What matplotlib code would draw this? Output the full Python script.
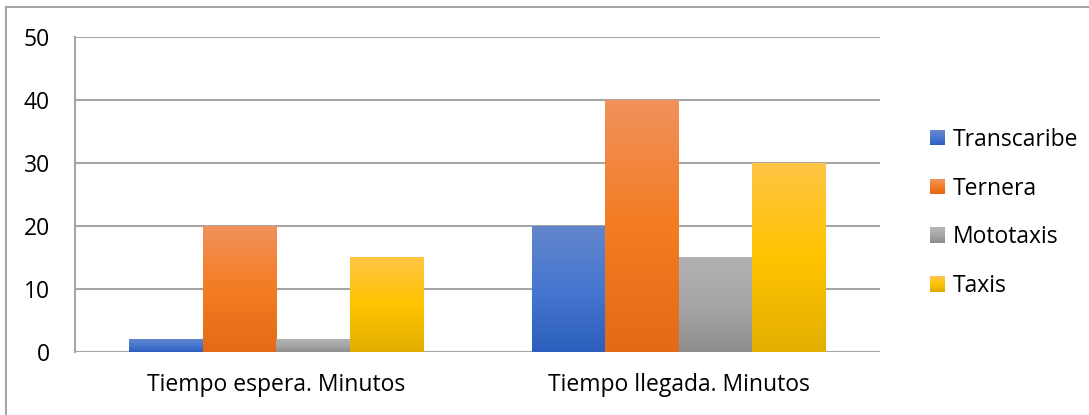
import matplotlib
matplotlib.use("Agg")
import matplotlib.pyplot as plt
import numpy as np
from matplotlib.colors import LinearSegmentedColormap
from matplotlib.lines import Line2D
from matplotlib.patches import Rectangle
from matplotlib.legend_handler import HandlerBase

categories = ["Tiempo espera. Minutos", "Tiempo llegada. Minutos"]
series_names = ["Transcaribe", "Ternera", "Mototaxis", "Taxis"]
transcaribe = [2, 20]
ternera = [20, 40]
mototaxis = [2, 15]
taxis = [15, 30]
values = [transcaribe, ternera, mototaxis, taxis]
y_ticks = [0, 10, 20, 30, 40, 50]

# top / middle / bottom colours of each series' vertical gradient
gradients = [
    ("#6486CC", "#4677D0", "#2C5EBD"),
    ("#F0915C", "#F47C22", "#E46A18"),
    ("#B2B2B2", "#A6A6A6", "#8E8E8E"),
    ("#FFC545", "#FFC300", "#E2AF00"),
]

plt.rcParams["font.family"] = ["Open Sans", "DejaVu Sans"]
FS = 16.5

W, H = 1089, 415
fig = plt.figure(figsize=(W / 100, H / 100), dpi=100)
ax = fig.add_axes([75 / W, 1 - 352 / H, 805 / W, 315 / H])

grid_col = "#A6A6A6"
n = len(series_names)
bar_w = 73.5 / 402.5
x = np.arange(len(categories))

cmaps = [LinearSegmentedColormap.from_list(f"g{i}", [g[2], g[1], g[0]])
         for i, g in enumerate(gradients)]
grad = np.linspace(0, 1, 256).reshape(-1, 1)

for i, (vals, cmap) in enumerate(zip(values, cmaps)):
    offs = (i - (n - 1) / 2) * bar_w
    bars = ax.bar(x + offs, vals, width=bar_w, color="none", zorder=3)
    for b in bars:
        x0, y0 = b.get_x(), b.get_y()
        w, h = b.get_width(), b.get_height()
        im = ax.imshow(grad, cmap=cmap, aspect="auto", origin="lower",
                       extent=[x0, x0 + w, y0, y0 + h], zorder=3,
                       interpolation="bilinear")
        im.set_clip_path(b)

ax.set_xlim(-0.5, 1.5)
ax.set_ylim(0, 50)
ax.set_yticks(y_ticks)
ax.set_xticks(x)
ax.set_xticklabels(categories)
ax.tick_params(axis="both", length=0, labelsize=FS, colors="#000000")
ax.tick_params(axis="y", pad=18)
ax.tick_params(axis="x", pad=15)
ax.yaxis.grid(True, color=grid_col, linewidth=1.5, zorder=0)
ax.set_axisbelow(True)
for s in ["top", "right", "bottom"]:
    ax.spines[s].set_visible(False)
ax.spines["left"].set_color(grid_col)
ax.spines["left"].set_linewidth(1.5)


class GradientHandler(HandlerBase):
    def __init__(self, cmap):
        super().__init__()
        self.cmap = cmap

    def create_artists(self, legend, orig_handle, xdescent, ydescent,
                       width, height, fontsize, trans):
        arts = []
        steps = 8
        size = height
        x0 = -xdescent + (width - size) / 2
        for k in range(steps):
            r = Rectangle((x0, -ydescent + k * size / steps), size,
                          size / steps + 0.3, facecolor=self.cmap(k / (steps - 1)),
                          edgecolor="none", transform=trans)
            arts.append(r)
        return arts


handles = [Rectangle((0, 0), 1, 1) for _ in series_names]
handler_map = {h: GradientHandler(c) for h, c in zip(handles, cmaps)}
fig.legend(handles, series_names, handler_map=handler_map,
           loc="center left", bbox_to_anchor=(921 / W, 1 - 213 / H),
           frameon=False, fontsize=FS, handlelength=0.65, handleheight=0.65,
           handletextpad=0.35, labelspacing=1.08, borderaxespad=0)

# outer chart border
fig.add_artist(Line2D([6 / W, 6 / W], [0, 1 - 7 / H], transform=fig.transFigure,
                      color="#A6A6A6", linewidth=1.5))
fig.add_artist(Line2D([6 / W, 1], [1 - 7 / H, 1 - 7 / H], transform=fig.transFigure,
                      color="#A6A6A6", linewidth=1.5))

fig.savefig("out.png", dpi=100, facecolor="white")
